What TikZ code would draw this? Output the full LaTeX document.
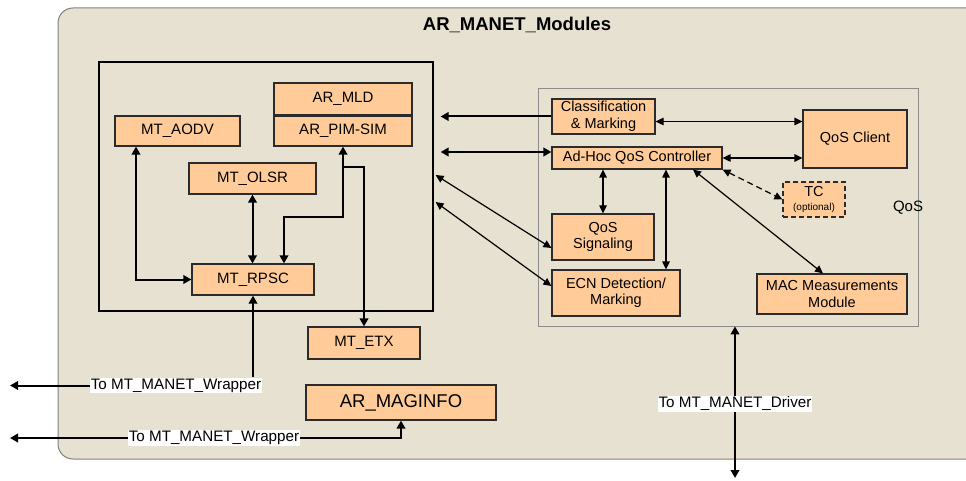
\documentclass[tikz,border=0pt]{standalone}
\usepackage{fontspec}
\setmainfont{Liberation Sans}
\usetikzlibrary{arrows.meta}
\definecolor{panel}{HTML}{E6E1D0}
\definecolor{boxfill}{HTML}{FFCC99}
\definecolor{boxline}{HTML}{2B2B2B}
\begin{document}
\begin{tikzpicture}[x=1pt,y=-1pt,
  font=\fontsize{15}{17}\selectfont,
  mod/.style={draw=boxline, line width=1.2pt, fill=boxfill, inner sep=0pt, align=center},
  qmod/.style={mod, font=\fontsize{14.5}{16.5}\selectfont},
  tagbox/.style={fill=white, inner sep=1pt, font=\fontsize{15.2}{17}\selectfont},
  thick arr/.style={line width=2pt, {Triangle[length=8pt,width=8.5pt]}-{Triangle[length=8pt,width=8.5pt]}},
  thick end/.style={line width=2pt, -{Triangle[length=8pt,width=8.5pt]}},
  thin arr/.style={line width=1.2pt, {Triangle[length=8pt,width=7.5pt]}-{Triangle[length=8pt,width=7.5pt]}},
  thin end/.style={line width=1.2pt, -{Triangle[length=8pt,width=7.5pt]}}]
\useasboundingbox (0,0) rectangle (966,481);

% outer panel
\draw[fill=panel, draw=black!50, line width=1pt, rounded corners=15pt] (58,8) rectangle (1000,459);
\node[font=\fontsize{18.5}{20}\selectfont\bfseries] (title) at (517,25) {AR\_MANET\_Modules};

% routing block
\node[draw=black, line width=1.2pt, minimum width=334pt, minimum height=249pt, inner sep=0pt] (inner) at (266,186.5) {};
\node[mod, minimum width=138pt, minimum height=32pt] (mld) at (343,99) {AR\_MLD};
\node[mod, minimum width=138pt, minimum height=31pt] (pim) at (343,130.5) {AR\_PIM-SIM};
\draw[boxline, line width=2pt] (mld.south west) -- (mld.south east);
\node[mod, minimum width=125pt, minimum height=30pt] (aodv) at (177.5,131) {MT\_AODV};
\node[mod, minimum width=127pt, minimum height=31pt] (olsr) at (252.5,178.5) {MT\_OLSR};
\node[mod, minimum width=122pt, minimum height=31pt] (rpsc) at (253,279.5) {MT\_RPSC};
\node[mod, minimum width=112pt, minimum height=32pt] (etx) at (364,343) {MT\_ETX};
\node[mod, minimum width=190pt, minimum height=35pt, font=\fontsize{18.5}{20}\selectfont] (maginfo) at (401,402.5) {AR\_MAGINFO};

% QoS block
\node[draw=black!45, line width=0.8pt, minimum width=380pt, minimum height=238pt, inner sep=0pt] (qos) at (728,207) {};
\node (qoslbl) at (908,208) {QoS};
\node[qmod, minimum width=103pt, minimum height=35pt] (cls) at (603.5,116.5) {Classification\\\& Marking};
\node[qmod, minimum width=170pt, minimum height=22pt] (ctl) at (637,158) {Ad-Hoc QoS Controller};
\node[qmod, minimum width=104pt, minimum height=58pt] (client) at (855,139) {QoS Client};
\node[qmod, dashed, dash pattern=on 5pt off 3pt, minimum width=62pt, minimum height=35pt] (tc) at (814,199.5) {TC\\[-3pt]{\fontsize{10}{11}\selectfont(optional)}};
\node[qmod, minimum width=102pt, minimum height=46pt] (sig) at (603,237) {QoS\\Signaling};
\node[qmod, minimum width=128pt, minimum height=46pt] (ecn) at (616,293) {ECN Detection/\\Marking};
\node[qmod, minimum width=150pt, minimum height=40pt] (mac) at (832,294) {MAC Measurements\\Module};

% links inside the routing block
\draw[thick arr] ([xshift=-41.5pt]aodv.south) |- (rpsc.west);
\draw[thick arr] (olsr.south) -- (olsr.south |- rpsc.north);
\draw[thick arr] (pim.south) -- ++(0,70) -| ([xshift=31pt]rpsc.north);
\draw[thick end] ([yshift=-20pt]pim.south) -| (etx.north);

% wrapper links
\node[tagbox] (wr1) at (176,385.5) {To MT\_MANET\_Wrapper};
\node[tagbox] (wr2) at (214,438) {To MT\_MANET\_Wrapper};
\coordinate (out1) at (10,385.5);
\coordinate (out2) at (10,438);
\draw[thick end] (rpsc.south |- wr1.north) -- (rpsc.south);
\draw[thick end] (wr1.west) -- (out1);
\draw[thick end] (wr2.east) -| (maginfo.south);
\draw[thick end] (wr2.west) -- (out2);

% driver link
\coordinate (drvtop) at ([xshift=7pt]qos.south);
\coordinate (drvbot) at (735,478);
\draw[thick arr] (drvtop) -- (drvbot);
\node[tagbox] (drv) at (735,404) {To MT\_MANET\_Driver};

% links between the blocks
\coordinate (ie) at ([xshift=7pt]inner.east);
\draw[thick end] (cls.west) -- (ie |- cls.west);
\coordinate (ctlw) at ([yshift=6pt]ctl.west);
\draw[thick arr] (ie |- ctlw) -- (ctlw);
\draw[thin arr] ([xshift=2pt,yshift=11.5pt]inner.east) -- ([yshift=-11pt]sig.west);
\draw[thin arr] ([xshift=2pt,yshift=-15.5pt]inner.east) -- ([yshift=7pt]ecn.west);

% links inside the QoS block
\coordinate (clse) at ([yshift=-5pt]cls.east);
\draw[thin arr] (clse) -- (clse -| client.west);
\draw[thin arr] (ctl.east) -- (ctl.east -| client.west);
\draw[thin arr] (sig.north |- ctl.south) -- (sig.north);
\coordinate (ecnn) at ([xshift=50pt]ecn.north);
\draw[thin arr] (ecnn |- ctl.south) -- (ecnn);
\draw[thin arr] ([xshift=56pt]ctl.south) -- ([xshift=-9pt]mac.north);
\draw[thin arr, dashed, dash pattern=on 6pt off 4pt] (ctl.south east) -- (tc.west);
\end{tikzpicture}
\end{document}
